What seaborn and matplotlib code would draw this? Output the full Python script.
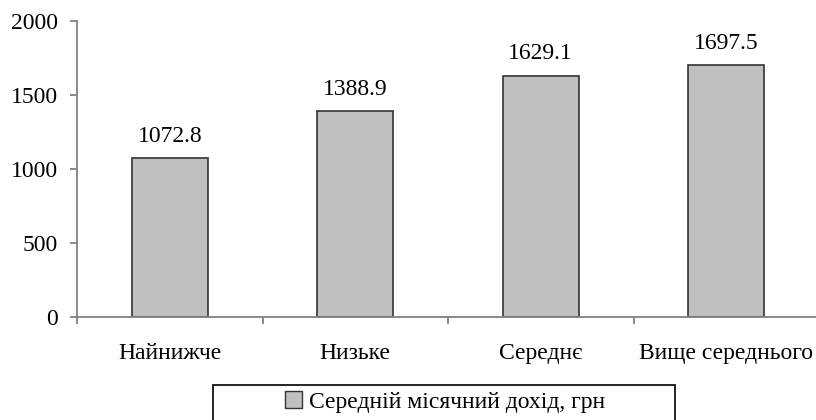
import matplotlib
matplotlib.use("Agg")
import matplotlib.pyplot as plt
import seaborn as sns
import pandas as pd
from matplotlib.patches import Patch, Rectangle
from matplotlib.ticker import FixedLocator

categories = ["Найнижче", "Низьке", "Середнє", "Вище середнього"]
values = [1072.8, 1388.9, 1629.1, 1697.5]
series_name = "Середній місячний дохід, грн"
yticks = [0, 500, 1000, 1500, 2000]

sns.set_style("white")
plt.rcParams['font.family'] = ['Liberation Serif', 'DejaVu Serif']
plt.rcParams['font.size'] = 17
for k in ["text.color", "axes.labelcolor", "xtick.color", "ytick.color"]:
    plt.rcParams[k] = "black"

df = pd.DataFrame({"cat": categories, "val": values})

fig = plt.figure(figsize=(8.16, 4.2), dpi=100)
ax = fig.add_axes([77/816, (420-316.7)/420, 742/816, 296/420])

bar_face = "#c0c0c0"
bar_edge = "#333333"
sns.barplot(data=df, x="cat", y="val", color=bar_face, edgecolor=bar_edge,
            linewidth=1.2, width=0.41, saturation=1, ax=ax)

ax.set_xlim(-0.5, len(categories) - 0.5)
ax.set_ylim(0, 2000)
ax.set_yticks(yticks)
ax.set_yticklabels([str(v) for v in yticks])
ax.set_xlabel("")
ax.set_ylabel("")

for s in ["top", "right"]:
    ax.spines[s].set_visible(False)
for s in ["left", "bottom"]:
    ax.spines[s].set_color("#808080")
    ax.spines[s].set_linewidth(1.3)

ax.tick_params(axis="y", direction="out", length=5, width=1.3, color="#808080",
               labelcolor="black", pad=9, left=True, labelsize=17)
ax.tick_params(axis="x", which="major", length=0, pad=19, labelcolor="black", labelsize=17)
ax.xaxis.set_minor_locator(FixedLocator([i - 0.5 for i in range(len(categories) + 1)]))
ax.tick_params(axis="x", which="minor", direction="out", length=5, width=1.3,
               color="#808080", bottom=True)

ax.bar_label(ax.containers[0], fmt="%.1f", padding=8, fontsize=17, color="black")

# legend box
fig.patches.append(Rectangle((213/816, -0.05), 462/816, (420-385)/420 + 0.05,
                             transform=fig.transFigure, fill=False,
                             edgecolor="#000000", linewidth=1.2))
handle = Patch(facecolor=bar_face, edgecolor=bar_edge, linewidth=1.0)
fig.legend([handle], [series_name], loc="center", bbox_to_anchor=(445/816, (420-402)/420),
           frameon=False, handlelength=0.7, handleheight=0.7, handletextpad=0.3,
           fontsize=17, labelcolor="black")

fig.savefig("out.png", dpi=100)
